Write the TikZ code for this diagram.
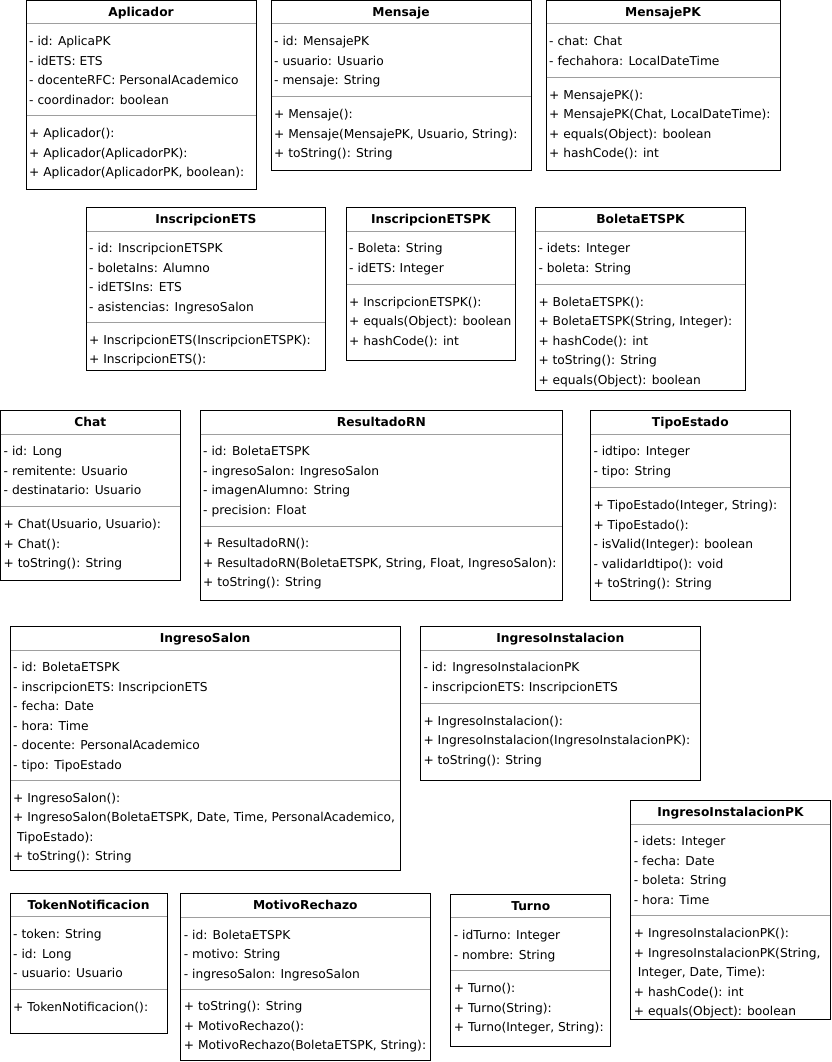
\documentclass[tikz,border=0pt]{standalone}
\usepackage{fontspec}
\setmainfont{DejaVu Sans}
\newcommand\umlfont{\fontsize{12.25}{14}\selectfont}
\tikzset{
  umlbox/.style={draw=black, line width=1pt, fill=white, inner sep=0pt, outer sep=0pt, anchor=north west},
  umltitle/.style={font=\umlfont\bfseries, anchor=base, inner sep=0pt},
  umlline/.style={font=\umlfont, anchor=base west, inner sep=0pt},
  sepline/.style={draw=black!38, line width=1pt},
}
\newcommand\umlclass[8]{%
  \node[umlbox, minimum width={(#4-#2)*1pt}, minimum height={(#5-#3)*1pt}] (#1) at (#2,#3) {};
  \draw[sepline] ({#2+0.5},#6) -- ({#4-0.5},#6);
  \draw[sepline] ({#2+0.5},#7) -- ({#4-0.5},#7);
  \node[umltitle] (#1-title) at ({(#2+#4)/2},{#3+16.2}) {#8};
}
\newcommand\umllines[4]{%
  \foreach \t [count=\i] in {#4} {
    \node[umlline] (#1\i) at ({#2+3},{#3+21.9+(\i-1)*19.5}) {\t};
  }
}
\begin{document}
\begin{tikzpicture}[x=1pt, y=-1pt]
\useasboundingbox (0,0) rectangle (831,1062);
\fill[white] (0,0) rectangle (831,1062);

% Row 1
\umlclass{aplicador}{26}{0.5}{256}{189}{24}{115.7}{Aplicador}
\umllines{aplicador-a}{26}{24}{{- id: AplicaPK},{- idETS: ETS},{- docenteRFC: PersonalAcademico},{- coordinador: boolean}}
\umllines{aplicador-m}{26}{115.7}{{+ Aplicador():},{+ Aplicador(AplicadorPK):},{+ Aplicador(AplicadorPK, boolean):}}

\umlclass{mensaje}{271}{0.5}{531}{170}{24}{96.7}{Mensaje}
\umllines{mensaje-a}{271}{24}{{- id: MensajePK},{- usuario: Usuario},{- mensaje: String}}
\umllines{mensaje-m}{271}{96.7}{{+ Mensaje():},{+ Mensaje(MensajePK, Usuario, String):},{+ toString(): String}}

\umlclass{mensajepk}{546}{0.5}{780}{170}{24}{77.3}{MensajePK}
\umllines{mensajepk-a}{546}{24}{{- chat: Chat},{- fechahora: LocalDateTime}}
\umllines{mensajepk-m}{546}{77.3}{{+ MensajePK():},{+ MensajePK(Chat, LocalDateTime):},{+ equals(Object): boolean},{+ hashCode(): int}}

% Row 2
\umlclass{insets}{86}{207.3}{325.7}{370}{231}{322.3}{InscripcionETS}
\umllines{insets-a}{86}{231}{{- id: InscripcionETSPK},{- boletaIns: Alumno},{- idETSIns: ETS},{- asistencias: IngresoSalon}}
\umllines{insets-m}{86}{322.3}{{+ InscripcionETS(InscripcionETSPK):},{+ InscripcionETS():}}

\umlclass{insetspk}{346}{207.3}{515.7}{360}{231}{284.3}{InscripcionETSPK}
\umllines{insetspk-a}{346}{231}{{- Boleta: String},{- idETS: Integer}}
\umllines{insetspk-m}{346}{284.3}{{+ InscripcionETSPK():},{+ equals(Object): boolean},{+ hashCode(): int}}

\umlclass{boletapk}{535.3}{207.3}{745.7}{390}{231}{284.3}{BoletaETSPK}
\umllines{boletapk-a}{535.3}{231}{{- idets: Integer},{- boleta: String}}
\umllines{boletapk-m}{535.3}{284.3}{{+ BoletaETSPK():},{+ BoletaETSPK(String, Integer):},{+ hashCode(): int},{+ toString(): String},{+ equals(Object): boolean}}

% Row 3
\umlclass{chat}{0.5}{410}{180.3}{580.3}{434}{506.7}{Chat}
\umllines{chat-a}{0.5}{434}{{- id: Long},{- remitente: Usuario},{- destinatario: Usuario}}
\umllines{chat-m}{0.5}{506.7}{{+ Chat(Usuario, Usuario):},{+ Chat():},{+ toString(): String}}

\umlclass{resultado}{200}{410}{562.7}{600}{434}{526}{ResultadoRN}
\umllines{resultado-a}{200}{434}{{- id: BoletaETSPK},{- ingresoSalon: IngresoSalon},{- imagenAlumno: String},{- precision: Float}}
\umllines{resultado-m}{200}{526}{{+ ResultadoRN():},{+ ResultadoRN(BoletaETSPK, String, Float, IngresoSalon):},{+ toString(): String}}

\umlclass{tipo}{590.3}{410}{790.3}{600}{434}{487.7}{TipoEstado}
\umllines{tipo-a}{590.3}{434}{{- idtipo: Integer},{- tipo: String}}
\umllines{tipo-m}{590.3}{487.7}{{+ TipoEstado(Integer, String):},{+ TipoEstado():},{- isValid(Integer): boolean},{- validarIdtipo(): void},{+ toString(): String}}

% Row 4
\umlclass{salon}{10}{626}{400.3}{870}{650}{780.3}{IngresoSalon}
\umllines{salon-a}{10}{650}{{- id: BoletaETSPK},{- inscripcionETS: InscripcionETS},{- fecha: Date},{- hora: Time},{- docente: PersonalAcademico},{- tipo: TipoEstado}}
\umllines{salon-m}{10}{780.3}{{+ IngresoSalon():},{+ IngresoSalon(BoletaETSPK, Date, Time, PersonalAcademico,},{\ TipoEstado):},{+ toString(): String}}

\umlclass{instal}{420.3}{626}{700.3}{780}{650}{703.3}{IngresoInstalacion}
\umllines{instal-a}{420.3}{650}{{- id: IngresoInstalacionPK},{- inscripcionETS: InscripcionETS}}
\umllines{instal-m}{420.3}{703.3}{{+ IngresoInstalacion():},{+ IngresoInstalacion(IngresoInstalacionPK):},{+ toString(): String}}

\umlclass{instalpk}{630.7}{800}{830.3}{1019.3}{824}{915.7}{IngresoInstalacionPK}
\umllines{instalpk-a}{630.7}{824}{{- idets: Integer},{- fecha: Date},{- boleta: String},{- hora: Time}}
\umllines{instalpk-m}{630.7}{915.7}{{+ IngresoInstalacionPK():},{+ IngresoInstalacionPK(String,},{\ Integer, Date, Time):},{+ hashCode(): int},{+ equals(Object): boolean}}

% Row 5
\umlclass{token}{10}{893.3}{167}{1033}{916.7}{989.3}{TokenNotificacion}
\umllines{token-a}{10}{916.7}{{- token: String},{- id: Long},{- usuario: Usuario}}
\umllines{token-m}{10}{989.3}{{+ TokenNotificacion():}}

\umlclass{motivo}{180.7}{893.3}{430}{1060.7}{917.3}{989}{MotivoRechazo}
\umllines{motivo-a}{180.7}{917.3}{{- id: BoletaETSPK},{- motivo: String},{- ingresoSalon: IngresoSalon}}
\umllines{motivo-m}{180.7}{989}{{+ toString(): String},{+ MotivoRechazo():},{+ MotivoRechazo(BoletaETSPK, String):}}

\umlclass{turno}{450.7}{894}{610.7}{1046.7}{917.7}{970.7}{Turno}
\umllines{turno-a}{450.7}{917.7}{{- idTurno: Integer},{- nombre: String}}
\umllines{turno-m}{450.7}{970.7}{{+ Turno():},{+ Turno(String):},{+ Turno(Integer, String):}}
\end{tikzpicture}
\end{document}
